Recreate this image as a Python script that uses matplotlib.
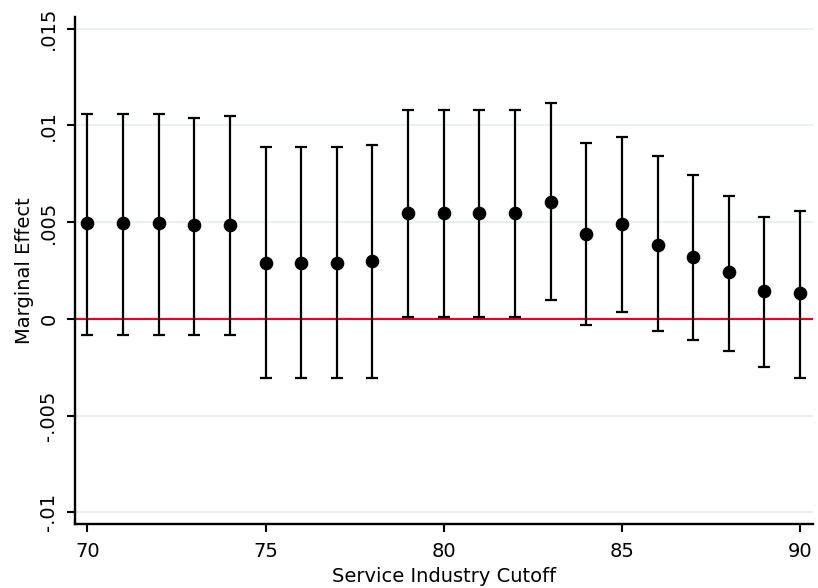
import numpy as np
import matplotlib.pyplot as plt

# cutoff values and estimated marginal effects with CI bounds
cutoff = [70, 71, 72, 73, 74, 75, 76, 77, 78, 79, 80, 81, 82, 83, 84, 85, 86, 87, 88, 89, 90]
effect = [0.00495, 0.00495, 0.00495, 0.00485, 0.00485, 0.00287, 0.00287, 0.00287, 0.00297,
          0.00547, 0.00547, 0.00547, 0.00547, 0.00602, 0.00438, 0.00492, 0.00383, 0.00318,
          0.00241, 0.00144, 0.00133]
upper = [0.0106, 0.0106, 0.0106, 0.0104, 0.0105, 0.00886, 0.00886, 0.00886, 0.00899,
         0.01082, 0.01082, 0.01082, 0.01082, 0.01117, 0.0091, 0.00942, 0.00843, 0.00744,
         0.00636, 0.00527, 0.00558]
lower = [-0.00086, -0.00086, -0.00086, -0.00086, -0.00086, -0.00304, -0.00304, -0.00304, -0.00304,
         0.0001, 0.0001, 0.0001, 0.0001, 0.00099, -0.00032, 0.00034, -0.00065, -0.00109,
         -0.00164, -0.00251, -0.00306]

yticks = [-0.01, -0.005, 0, 0.005, 0.01, 0.015]
ytick_labels = ['-.01', '-.005', '0', '.005', '.01', '.015']
xticks = [70, 75, 80, 85, 90]

plt.rcParams['font.family'] = ['DejaVu Sans']

fig = plt.figure(figsize=(8.18, 5.88), dpi=100)
ax = fig.add_axes([0.0917, 0.109, 0.902, 0.862])

eff = np.array(effect)
err = np.vstack([eff - np.array(lower), np.array(upper) - eff])

for y in yticks:
    ax.axhline(y, color='#eaeff2', lw=1.4, zorder=0)
ax.axhline(0, color='#c8102e', lw=1.6, zorder=1)

ax.errorbar(cutoff, effect, yerr=err, fmt='o', color='black', ecolor='black',
            markersize=8.8, elinewidth=1.6, capsize=4.6, capthick=1.6, zorder=3)

ax.set_xlim(69.65, 90.36)
ax.set_ylim(-0.0106, 0.0156)
ax.set_xticks(xticks)
ax.set_yticks(yticks)
ax.set_yticklabels(ytick_labels, rotation=90, va='center')
ax.tick_params(axis='both', direction='out', length=6, width=1.5, labelsize=14)
ax.tick_params(axis='x', pad=7)
ax.tick_params(axis='y', pad=6)

for s in ['top', 'right']:
    ax.spines[s].set_visible(False)
for s in ['left', 'bottom']:
    ax.spines[s].set_linewidth(1.7)

ax.set_xlabel('Service Industry Cutoff', fontsize=14, labelpad=4)
ax.set_ylabel('Marginal Effect', fontsize=14, labelpad=4)

fig.savefig('out.png', dpi=100)
